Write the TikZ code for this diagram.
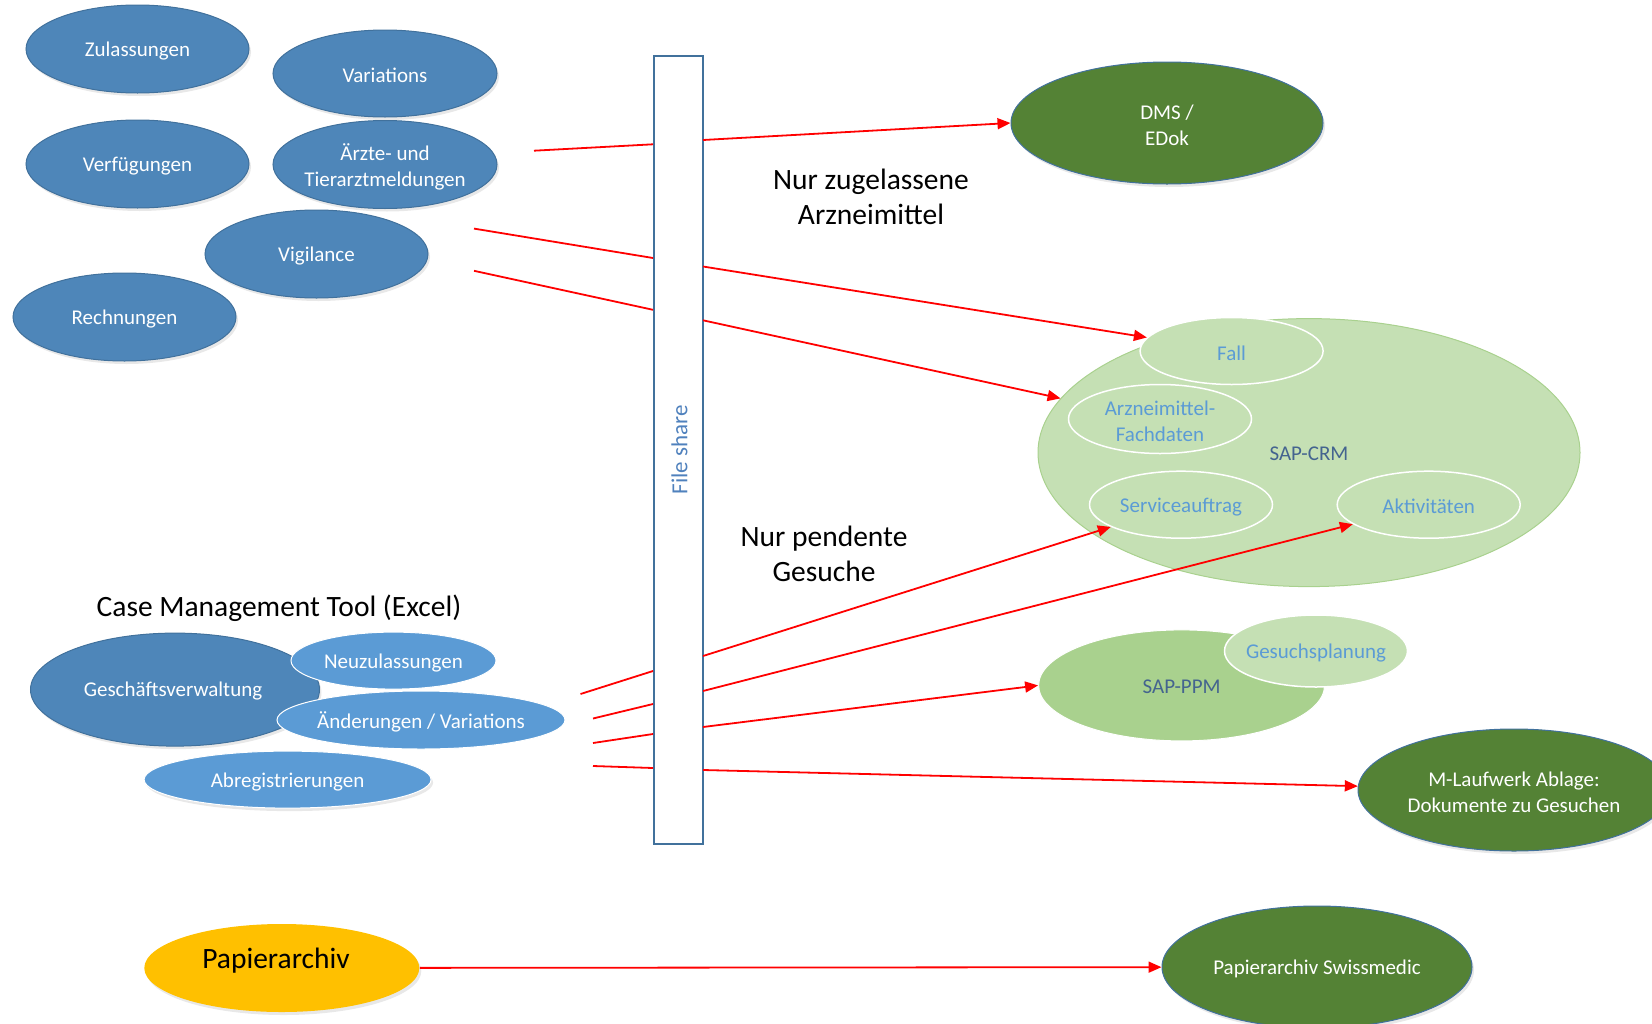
\documentclass[tikz,border=0pt]{standalone}
\usepackage{fontspec}
\setmainfont{Carlito}
\usetikzlibrary{shapes.geometric,arrows.meta,shadows}
\definecolor{dblue}{HTML}{4E86B9}
\definecolor{dblueline}{HTML}{41719C}
\definecolor{lblue}{HTML}{5B9BD5}
\definecolor{dgreen}{HTML}{548235}
\definecolor{crmfill}{HTML}{C5E0B4}
\definecolor{crmline}{HTML}{A9D18E}
\definecolor{ppmfill}{HTML}{A9D18E}
\definecolor{inblue}{HTML}{5B9BD5}
\definecolor{sapblue}{HTML}{44648F}
\definecolor{yel}{HTML}{FFC000}
\definecolor{fsblue}{HTML}{4F81BD}
\begin{document}
\begin{tikzpicture}[x=1pt,y=-1pt,
  ellbase/.style={ellipse, inner sep=0pt, line width=1pt},
  shad/.style={drop shadow={opacity=0.18, shadow xshift=2pt, shadow yshift=-3pt}},
  darkb/.style={ellbase, fill=dblue, draw=dblueline, shad},
  lightb/.style={ellbase, fill=lblue, draw=white},
  darkg/.style={ellbase, fill=dgreen, draw=dblueline, shad},
  inner/.style={ellbase, fill=crmfill, draw=white, line width=1.5pt},
  wtxt/.style={text=white, font=\fontsize{21}{26}\selectfont, align=center, yshift=-2pt},
  itxt/.style={text=inblue, font=\fontsize{21}{26}\selectfont, align=center, yshift=-2pt},
  stxt/.style={text=sapblue, font=\fontsize{21}{26}\selectfont, align=center, yshift=-1pt},
  ttl/.style={text=black, font=\fontsize{29.5}{35}\selectfont, align=center},
  seg/.style={draw=red, line width=1.8pt},
  arr/.style={draw=red, line width=1.8pt, -{Triangle[length=13pt,width=11pt]}}
]
\useasboundingbox (0,0) rectangle (1652,1023);
\clip (0,0) rectangle (1652,1023);

% left upper group
\node[darkb, minimum width=223pt, minimum height=88pt] (zul) at (137.5,49) {};
\node[wtxt] at (zul) {Zulassungen};
\node[darkb, minimum width=224pt, minimum height=87pt] (var) at (385,73.5) {};
\node[wtxt] at (var) {Variations};
\node[darkb, minimum width=223pt, minimum height=88pt] (verf) at (137.5,164) {};
\node[wtxt] at (verf) {Verfügungen};
\node[darkb, minimum width=224pt, minimum height=88pt] (aerz) at (385,164.5) {};
\node[wtxt] at (aerz) {Ärzte- und\\Tierarztmeldungen};
\node[darkb, minimum width=223pt, minimum height=88pt] (vig) at (316.5,254) {};
\node[wtxt] at (vig) {Vigilance};
\node[darkb, minimum width=223pt, minimum height=88pt] (rech) at (124.5,317) {};
\node[wtxt] at (rech) {Rechnungen};

% case management group
\node[ttl] (cmt) at (279,608) {Case Management Tool (Excel)};
\node[darkb, minimum width=289pt, minimum height=113pt] (gv) at (175,689.6) {};
\node[wtxt] at (173,689) {Geschäftsverwaltung};
\node[lightb, minimum width=205pt, minimum height=57pt] (neu) at (393.5,660.6) {};
\node[wtxt] at (neu) {Neuzulassungen};
\node[lightb, minimum width=288pt, minimum height=58pt] (aend) at (421,720) {};
\node[wtxt] at (aend) {Änderungen / Variations};
\node[lightb, minimum width=287pt, minimum height=57pt, shad] (abr) at (287.6,779.6) {};
\node[wtxt] at (abr) {Abregistrierungen};

% file share
\node[draw=dblueline, fill=white, line width=1.5pt, minimum width=49pt, minimum height=788pt, inner sep=0pt] (fs) at (678.5,450) {};
\node[text=fsblue, font=\fontsize{23}{28}\selectfont, rotate=90] (fst) at (679.5,450) {File share};

% titles
\node[ttl] (nz) at (871,197) {Nur zugelassene\\Arzneimittel};
\node[ttl] (np) at (824,554) {Nur pendente\\Gesuche};

% right side
\node[darkg, minimum width=312pt, minimum height=122pt] (dms) at (1167,123) {};
\node[wtxt] at (dms) {DMS /\\EDok};

\node[ellbase, fill=crmfill, draw=crmline, minimum width=542pt, minimum height=268pt] (crm) at (1309,452.6) {};
\node[stxt] at (crm) {SAP-CRM};
\node[inner, minimum width=183pt, minimum height=67pt] (fall) at (1231.6,351) {};
\node[itxt] at (fall) {Fall};
\node[inner, minimum width=183pt, minimum height=69pt] (arz) at (1160,419) {};
\node[itxt] at (arz) {Arzneimittel-\\Fachdaten};
\node[inner, minimum width=183pt, minimum height=67pt] (serv) at (1181,504.7) {};
\node[itxt] at (serv) {Serviceauftrag};
\node[inner, minimum width=183pt, minimum height=67pt] (akt) at (1428.7,504.7) {};
\node[itxt] at (akt) {Aktivitäten};

\node[ellbase, fill=ppmfill, draw=white, minimum width=286pt, minimum height=111pt] (ppm) at (1181.6,685.4) {};
\node[stxt] at (ppm) {SAP-PPM};
\node[inner, minimum width=183pt, minimum height=72pt] (ges) at (1316,651) {};
\node[itxt] at (ges) {Gesuchsplanung};

\node[darkg, minimum width=312pt, minimum height=122pt] (mlauf) at (1514,790) {};
\node[wtxt] at (mlauf) {M-Laufwerk Ablage:\\Dokumente zu Gesuchen};

\node[darkg, minimum width=310pt, minimum height=122pt] (swiss) at (1317,967) {};
\node[wtxt] at (swiss) {Papierarchiv Swissmedic};

\node[ellbase, fill=yel, draw=none, minimum width=275pt, minimum height=88pt, shad] (pap) at (281.8,968) {};
\node[text=black, font=\fontsize{29.5}{34}\selectfont] at (276,961) {Papierarchiv};

% connector coordinates
\coordinate (a1) at (534,150.7); \coordinate (b1) at (653,144.3); \coordinate (c1) at (703,140);
\coordinate (a2) at (474,228.6); \coordinate (b2) at (653,258);   \coordinate (c2) at (703,266.5);
\coordinate (a3) at (474,270.8); \coordinate (b3) at (653,309.8); \coordinate (c3) at (703,320.3);
\coordinate (a4) at (580.5,694); \coordinate (b4) at (653,671);   \coordinate (c4) at (703,656);
\coordinate (a5) at (593,718.5); \coordinate (b5) at (653,704);   \coordinate (c5) at (703,691);
\coordinate (a6) at (593,743);   \coordinate (b6) at (653,734);   \coordinate (c6) at (703,727);
\coordinate (a7) at (593,766);   \coordinate (b7) at (653,768);   \coordinate (c7) at (703,770);

\draw[seg] (a1) -- (b1); \draw[arr] (c1) -- (dms.west);
\draw[seg] (a2) -- (b2); \draw[arr] (c2) -- (fall);
\draw[seg] (a3) -- (b3); \draw[arr] (c3) -- (crm);
\draw[seg] (a4) -- (b4); \draw[arr] (c4) -- (serv);
\draw[seg] (a5) -- (b5); \draw[arr] (c5) -- (akt);
\draw[seg] (a6) -- (b6); \draw[arr] (c6) -- (ppm.west);
\draw[seg] (a7) -- (b7); \draw[arr] (c7) -- (mlauf);
\draw[arr] (pap) -- (swiss);
\end{tikzpicture}
\end{document}
